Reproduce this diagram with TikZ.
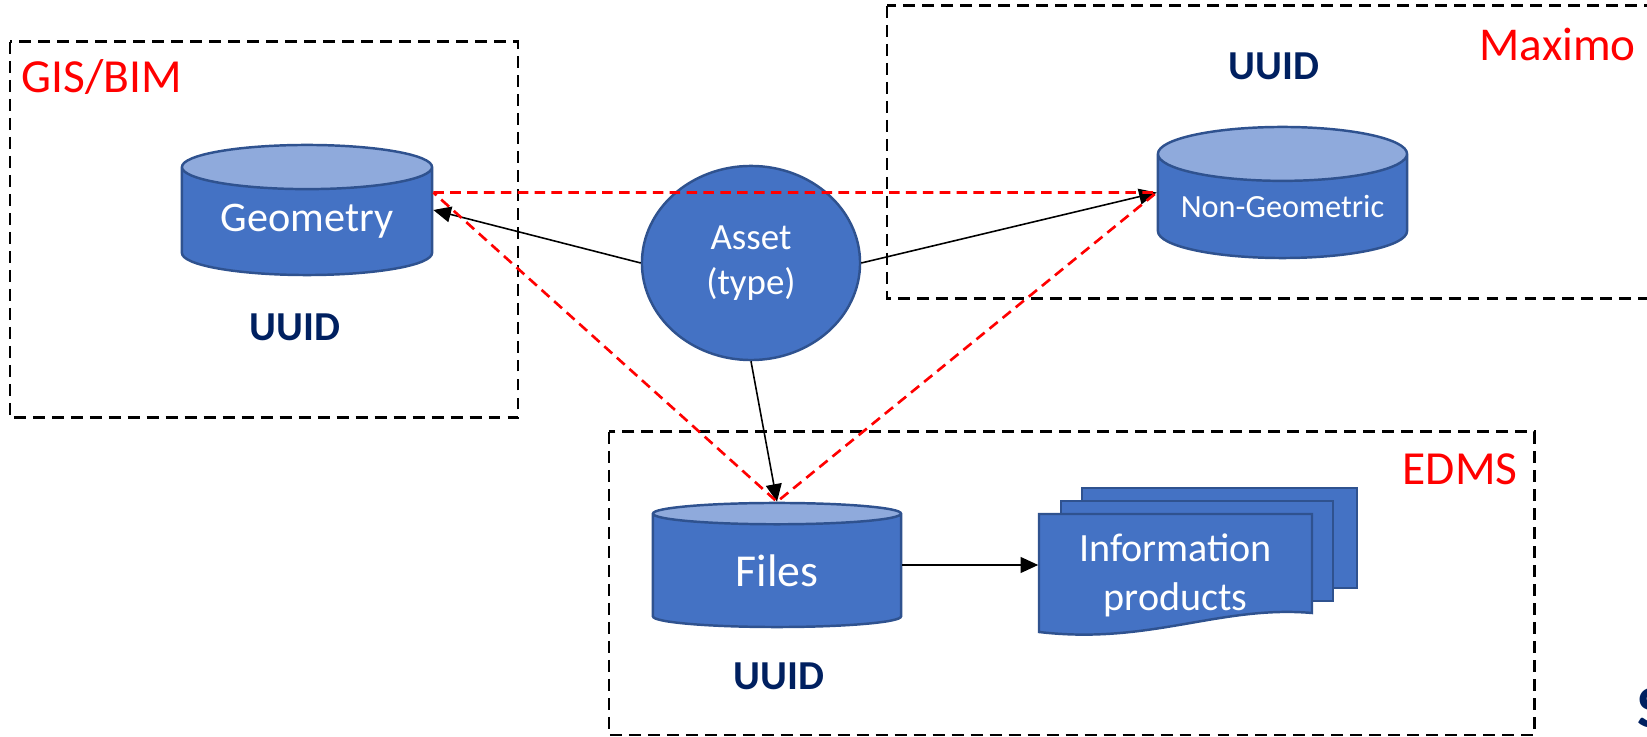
\documentclass[tikz,border=0pt]{standalone}
\usepackage{fontspec}
\setmainfont{Carlito}
\usetikzlibrary{arrows.meta,positioning,shapes.geometric}
\definecolor{assetblue}{HTML}{4472C4}
\definecolor{edgeblue}{HTML}{2F528F}
\definecolor{topblue}{HTML}{8FAADC}
\definecolor{uuidnavy}{HTML}{002060}

\begin{document}
\begin{tikzpicture}[x=0.01cm,y=-0.01cm,
	groupbox/.style={black,line width=0.85pt,dash pattern=on 3.4pt off 2pt},
	grouplabel/.style={red,font=\fontsize{13.5}{16}\selectfont,inner sep=0,anchor=base west},
	db/.style={cylinder,shape border rotate=90,anchor=shape center,draw=edgeblue,line width=0.7pt,cylinder uses custom fill,cylinder body fill=assetblue,cylinder end fill=topblue,text=white,inner sep=0},
	uuid/.style={text=uuidnavy,font=\bfseries\fontsize{11.7}{14}\selectfont},
	link/.style={line width=0.45pt,-{Triangle[length=5pt,width=4.5pt]}},
	idlink/.style={red,line width=0.75pt,dash pattern=on 3pt off 1.8pt},
	docpage/.style={fill=assetblue,draw=edgeblue,line width=0.7pt}]
	\useasboundingbox (0,0) rectangle (1647,737);

	\draw[groupbox] (10,42) rectangle (518,418);
	\draw[groupbox] (887,6) rectangle (1700,299);
	\draw[groupbox] (609,432) rectangle (1534,735);
	\node[grouplabel] (gislbl) at (21,93) {GIS/BIM};
	\node[grouplabel,font=\fontsize{13.4}{16}\selectfont] (maximolbl) at (1479,61) {Maximo};
	\node[grouplabel] (edmslbl) at (1402,485) {EDMS};

	\node[db,aspect=0.256,minimum width=2.5cm,minimum height=1.3cm,font=\fontsize{12}{14}\selectfont] (geometry) at (307,210) {Geometry};
	\node[db,aspect=0.265,minimum width=2.49cm,minimum height=1.31cm,font=\fontsize{9.2}{12}\selectfont] (nongeo) at (1282.5,192.5) {Non-Geometric};
	\node[db,aspect=0.258,minimum width=2.48cm,minimum height=1.24cm,font=\fontsize{13}{15}\selectfont] (files) at (777,565) {Files};
	\node[ellipse,fill=assetblue,draw=edgeblue,line width=0.7pt,minimum width=2.18cm,minimum height=1.94cm,inner sep=0,text=white,align=center,font=\fontsize{10.5}{14}\selectfont] (asset) at (751,263) {\raisebox{-2.5pt}{Asset}\\\raisebox{-1.5pt}{(type)}};

	\node[uuid] (geouuid) at (295,327) {UUID};
	\node[uuid] (nongeouuid) at (1274,66) {UUID};
	\node[uuid] (filesuuid) at (779,676) {UUID};

	\draw[docpage] (1082,488) rectangle (1357,588);
	\draw[docpage] (1061,501) rectangle (1333,601);
	\draw[docpage] (1039,514) -- (1312,514) -- (1312,613) .. controls (1220,605) and (1150,645) .. (1039,632) -- cycle;
	\node[text=white,align=center,font=\fontsize{11.4}{14}\selectfont,minimum width=2.73cm,inner sep=0] (info) at (1175.5,575) {Information\\products};

	\draw[link] (asset.west) -- (geometry.shape center -| geometry.east);
	\draw[link] (asset.east) -- (nongeo.shape center -| nongeo.west);
	\draw[link] (asset.south) -- (files.north);
	\draw[link] (files.shape center -| files.east) -- (files.shape center -| info.west);
	\draw[idlink] (geometry.east |- nongeo.shape center) -- (nongeo.shape center -| nongeo.west) -- (files.north) -- cycle;

	\node[text=uuidnavy,font=\bfseries\fontsize{17}{20}\selectfont,anchor=base west,inner sep=0] (cornermark) at (1637,728) {S};
\end{tikzpicture}
\end{document}
